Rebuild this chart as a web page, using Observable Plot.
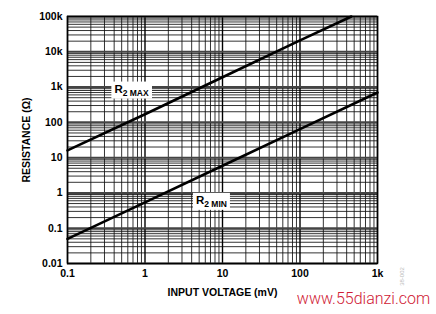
<!DOCTYPE html>
<html><head><meta charset="utf-8">
<script src="https://cdn.jsdelivr.net/npm/d3@7"></script>
<script src="https://cdn.jsdelivr.net/npm/@observablehq/plot@0.6"></script>
<style>
body{margin:0;background:#fff;}
#chart{position:relative;width:436px;height:314px;}
</style></head><body><div id="chart"></div>
<script>
const xTicks = [0.1, 1, 10, 100, 1000];
const xTickLabels = ["0.1", "1", "10", "100", "1k"];
const yTicks = [0.01, 0.1, 1, 10, 100, 1000, 10000, 100000];
const yTickLabels = ["0.01", "0.1", "1", "10", "100", "1k", "10k", "100k"];
const r2maxVoltage = [0.1, 1, 10, 100, 460];
const r2maxResistance = [16, 170, 1900, 21000, 100000];
const r2minVoltage = [0.1, 1, 10, 100, 1000];
const r2minResistance = [0.05, 0.54, 5.9, 64, 700];
const labelNames = ["R2 MAX", "R2 MIN"];
const labelVoltage = [0.67, 7.2];
const labelResistance = [870, 0.61];

const multiples = [2, 3, 4, 5, 6, 7, 8, 9];
const xMinor = xTicks.slice(0, -1).flatMap(d => multiples.map(k => d * k));
const yMinor = yTicks.slice(0, -1).flatMap(d => multiples.map(k => d * k));

const r2max = r2maxVoltage.map((v, i) => ({v, r: r2maxResistance[i]}));
const r2min = r2minVoltage.map((v, i) => ({v, r: r2minResistance[i]}));
const labels = labelNames.map((t, i) => ({t, v: labelVoltage[i], r: labelResistance[i]}));

const font = "'Liberation Sans', Arial, Helvetica, sans-serif";

const plot = Plot.plot({
  width: 436, height: 314,
  marginLeft: 67, marginRight: 59, marginTop: 16, marginBottom: 51,
  style: {fontFamily: font, fontSize: "10.5px", fontWeight: "bold", color: "#000", background: "#fff"},
  x: {type: "log", domain: [0.1, 1000]},
  y: {type: "log", domain: [0.01, 100000]},
  marks: [
    Plot.ruleX(xMinor, {stroke: "#111", strokeWidth: 1, strokeOpacity: 0.85}),
    Plot.ruleY(yMinor, {stroke: "#111", strokeWidth: 1, strokeOpacity: 0.85}),
    Plot.ruleX(xTicks, {stroke: "#000", strokeWidth: 1.4}),
    Plot.ruleY(yTicks, {stroke: "#444", strokeWidth: 2}),
    Plot.frame({stroke: "#000", strokeWidth: 1.5}),
    Plot.line(r2max, {x: "v", y: "r", stroke: "#000", strokeWidth: 2.6}),
    Plot.line(r2min, {x: "v", y: "r", stroke: "#000", strokeWidth: 2.6}),
    Plot.text(labels, {x: "v", y: "r", text: "t", fill: "#000", textAnchor: "middle"}),
    Plot.axisX({ticks: xTicks, tickFormat: d => xTickLabels[xTicks.indexOf(d)], tickSize: 0, tickPadding: 6,
      label: "INPUT VOLTAGE (mV)", labelAnchor: "center", labelOffset: 32, labelArrow: false}),
    Plot.axisY({ticks: yTicks, tickFormat: d => yTickLabels[yTicks.indexOf(d)], tickSize: 0, tickPadding: 5,
      label: "RESISTANCE (Ω)", labelAnchor: "center", labelOffset: 45, labelArrow: false}),
    Plot.text(["38-002"], {frameAnchor: "bottom-right", dx: 26, dy: 13, rotate: -90, textAnchor: "middle",
      fontSize: 6, fill: "#bbb"}),
    Plot.text(["www.55dianzi.com"], {frameAnchor: "bottom-right", dx: -14, dy: 40, textAnchor: "middle",
      fontSize: 16, fill: "#d02035"})
  ]
});
document.getElementById("chart").appendChild(plot);

const ns = "http://www.w3.org/2000/svg";
plot.querySelectorAll("text").forEach(t => {
  const s = t.textContent;
  if (s === "www.55dianzi.com" || s === "38-002") {
    t.style.fontWeight = "300";
    if (s === "www.55dianzi.com") t.style.fontFamily = "Roboto, 'Open Sans', sans-serif";
    return;
  }
  if (!labelNames.includes(s)) return;
  const suffix = s.split(" ")[1];
  while (t.firstChild) t.removeChild(t.firstChild);
  const a = document.createElementNS(ns, "tspan"); a.textContent = "R"; a.setAttribute("font-size", "11.5px");
  const b = document.createElementNS(ns, "tspan"); b.textContent = "2"; b.setAttribute("font-size", "8.5px"); b.setAttribute("dy", "3");
  const c = document.createElementNS(ns, "tspan"); c.textContent = " " + suffix; c.setAttribute("font-size", "8.5px");
  t.append(a, b, c);
  const bb = t.getBBox();
  const r = document.createElementNS(ns, "rect");
  r.setAttribute("x", bb.x - 3); r.setAttribute("y", bb.y - 1);
  r.setAttribute("width", bb.width + 6); r.setAttribute("height", bb.height + 2);
  r.setAttribute("fill", "#fff");
  const tr = t.getAttribute("transform");
  if (tr) r.setAttribute("transform", tr);
  t.parentNode.insertBefore(r, t);
});
</script></body></html>
